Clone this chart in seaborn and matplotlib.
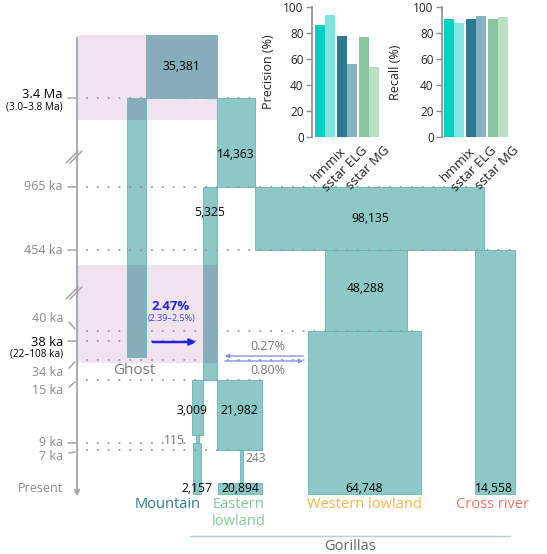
import matplotlib
matplotlib.use("Agg")
import matplotlib.pyplot as plt
import matplotlib.transforms as mtransforms
import numpy as np
import pandas as pd
import seaborn as sns

# ---- data ----
time_labels = ["3.4 Ma", "965 ka", "454 ka", "40 ka", "38 ka", "34 ka", "15 ka", "9 ka", "7 ka", "Present"]
time_ci = {"3.4 Ma": "(3.0–3.8 Ma)", "38 ka": "(22–108 ka)"}

pop_keys = ["ancestral", "ghost", "gorilla", "eastern_anc", "western_anc", "western_mid",
            "western", "cross", "mountain_anc", "eastern_low", "mountain_neck", "eastern_neck",
            "mountain", "eastern"]
pop_ne = [35381, None, 14363, 5325, 98135, 48288, 64748, 14558, 3009, 21982, 115, 243, 2157, 20894]

species = ["Mountain", "Eastern\nlowland", "Western lowland", "Cross river"]
mig_labels = ["2.47%", "0.27%", "0.80%"]
mig_ci = "(2.39–2.5%)"

methods = ["hmmix", "sstar ELG", "sstar MG"]
precision_a = [86, 77.5, 77]
precision_b = [94, 56, 53.5]
recall_a = [90.5, 91, 91]
recall_b = [87.5, 93, 92.5]

# ---- layout of the schematic (figure pixels, y grows downward) ----
time_rows = [98, 187, 250, 331, 341, 360, 380, 443, 450, 493]
label_rows = [95, 187, 251, 318, 342, 372, 391, 442, 457, 488]
dot_right = [255, 484, 515, 421, 217, 308, 262, 192, 262, None]

box_layout = {
    "ancestral": (146, 217, 35, 98),
    "ghost": (127, 146, 98, 357),
    "gorilla": (217, 255, 98, 187),
    "eastern_anc": (203, 217, 187, 380),
    "western_anc": (255, 484, 187, 250),
    "western_mid": (325, 407, 250, 331),
    "western": (308, 421, 331, 494),
    "cross": (475, 515, 250, 494),
    "mountain_anc": (192, 203, 380, 435),
    "eastern_low": (217, 262, 380, 450),
    "mountain_neck": (196, 198.5, 435, 443),
    "eastern_neck": (240, 242.5, 450, 483),
    "mountain": (193, 201, 443, 494),
    "eastern": (218, 262, 483, 494),
}
label_xy = {
    "ancestral": (181, 67), "gorilla": (236, 154), "eastern_anc": (210, 213),
    "western_anc": (370, 219), "western_mid": (366, 288), "western": (364, 488),
    "cross": (494, 488), "mountain_anc": (192, 411), "eastern_low": (239, 411),
    "mountain_neck": (174, 441), "eastern_neck": (256, 458), "mountain": (197, 488),
    "eastern": (240, 488),
}
pink_regions = [(77, 217, 35, 120), (77, 217, 265, 363)]

TEAL = "#8dc7c6"
TEAL_EDGE = "#62b6b4"
DARK = "#87adba"
PINK = "#f1e2f0"
GRAY = "#8a8a8a"

sns.set_theme(style="white")
plt.rcParams["font.family"] = ["Open Sans", "DejaVu Sans"]

fig = plt.figure(figsize=(5.47, 5.54), dpi=100)
ax = fig.add_axes([0, 0, 1, 1])
ax.set_xlim(0, 547)
ax.set_ylim(554, 0)
ax.axis("off")

# ghost shading
for l, r, t, b in pink_regions:
    ax.bar((l + r) / 2, b - t, width=r - l, bottom=t, color=PINK, linewidth=0, zorder=1)

# population boxes
for key in pop_keys:
    l, r, t, b = box_layout[key]
    ax.bar((l + r) / 2, b - t, width=r - l, bottom=t, color=TEAL,
           edgecolor=TEAL_EDGE, linewidth=0.6, zorder=2)
    for pl, pr, pt, pb in pink_regions:
        il, ir, it, ib = max(l, pl), min(r, pr), max(t, pt), min(b, pb)
        if ir > il and ib > it:
            ax.bar((il + ir) / 2, ib - it, width=ir - il, bottom=it, color=DARK,
                   linewidth=0, zorder=3)

for key, ne in zip(pop_keys, pop_ne):
    if ne is None:
        continue
    x, y = label_xy[key]
    ax.text(x, y, f"{ne:,}", ha="center", va="center", fontsize=8.7,
            color="#777777" if ne < 1000 else "black", zorder=6)

# dotted time lines
for row, xr in zip(time_rows, dot_right):
    if xr is None:
        continue
    ax.plot([86, xr], [row, row], color="#9a9a9a", lw=1.3, ls=(0, (1, 5)), zorder=4)

# time axis
ax.annotate("", xy=(77, 499), xytext=(77, 35),
            arrowprops=dict(arrowstyle="->", color="#a5a5a5", lw=1.3, mutation_scale=8))
for lab, row, lrow in zip(time_labels, time_rows, label_rows):
    dark = lab in time_ci
    ax.text(63, lrow, lab, ha="right", va="center", fontsize=9.3 if dark else 9,
            color="black" if dark else GRAY)
    if lab in time_ci:
        ax.text(63, lrow + 12, time_ci[lab], ha="right", va="center", fontsize=7.2, color="black")
    if lab == "Present":
        continue
    if abs(row - lrow) < 4:
        ax.plot([68, 76], [row, row], color="#a5a5a5", lw=1.1)
    else:
        s = np.sign(row - lrow)
        ax.plot([69, 75], [lrow + 4 * s, row - 2 * s], color="#a5a5a5", lw=1.1)

# axis breaks
for yb in [157, 293]:
    for dx in [0, 4]:
        ax.plot([66 + dx, 78 + dx], [yb + 6, yb - 6], color="#a5a5a5", lw=1.1)

# migration
ax.annotate("", xy=(199, 342), xytext=(150, 342),
            arrowprops=dict(arrowstyle="-|>", color="#2424d8", lw=1.8, mutation_scale=9), zorder=6)
ax.text(171, 307, mig_labels[0], ha="center", va="center", fontsize=9.5,
        fontweight="bold", color="#2424d8")
ax.text(171, 318, mig_ci, ha="center", va="center", fontsize=6.5, color="#3a3ad8")
ax.annotate("", xy=(222, 356), xytext=(306, 356),
            arrowprops=dict(arrowstyle="-|>", color="#8f8fe0", lw=1, mutation_scale=6), zorder=6)
ax.annotate("", xy=(306, 361), xytext=(222, 361),
            arrowprops=dict(arrowstyle="-|>", color="#8f8fe0", lw=1, mutation_scale=6), zorder=6)
ax.text(268, 347, mig_labels[1], ha="center", va="center", fontsize=9, color="#7a7a7a")
ax.text(268, 370, mig_labels[2], ha="center", va="center", fontsize=9, color="#7a7a7a")

ax.text(134, 371, "Ghost", ha="center", va="center", fontsize=11, color="#7a7a7a")

# species labels
sp_xy = [(168, 504), (239, 513), (364, 504), (492, 504)]
sp_colors = ["#2a7d91", "#82c99c", "#f5b74e", "#f27563"]
for name, (x, y), c in zip(species, sp_xy, sp_colors):
    ax.text(x, y, name, ha="center", va="center", fontsize=10.5, color=c, linespacing=1.25)
ax.plot([190, 510], [536, 536], color="#a8d8d0", lw=1)
ax.text(350, 546, "Gorillas", ha="center", va="center", fontsize=10.5, color="#666666")

# ---- inset bar charts ----
bar_colors = ["#00cfc1", "#7fe5dd", "#2e7a90", "#88b2c2", "#86c79c", "#badfc3"]


def inset(rect, vals_a, vals_b, ylabel, left, label_x):
    iax = fig.add_axes(rect)
    df = pd.DataFrame({"method": methods * 2,
                       "run": ["a"] * 3 + ["b"] * 3,
                       "value": vals_a + vals_b})
    sns.barplot(data=df, x="method", y="value", hue="run", dodge=True, width=0.91,
                gap=0, ax=iax, legend=False, saturation=1, errorbar=None)
    bars = sorted(iax.patches, key=lambda p: p.get_x())
    for p, c in zip(bars, bar_colors):
        p.set_facecolor(c)
        p.set_edgecolor("none")
    iax.set_ylim(0, 100)
    iax.set_xlim(left, 2.5)
    iax.set_yticks(range(0, 101, 20))
    iax.set_xlabel("")
    iax.set_ylabel(ylabel, fontsize=9, color="#222222")
    iax.yaxis.set_label_coords(label_x, 0.5)
    sns.despine(ax=iax, bottom=True)
    iax.spines["left"].set_color("#8c8c8c")
    iax.spines["left"].set_linewidth(1.2)
    iax.tick_params(axis="y", left=True, length=4, width=1, color="#8c8c8c",
                    labelsize=8.5, labelcolor="#222222", pad=2)
    iax.tick_params(axis="x", length=0, labelsize=9.5, labelcolor="#222222", pad=5)
    iax.patch.set_alpha(0)
    shift = mtransforms.ScaledTranslation(14 / 100, 0, fig.dpi_scale_trans)
    for t in iax.get_xticklabels():
        t.set_rotation(45)
        t.set_ha("right")
        t.set_va("top")
        t.set_rotation_mode("anchor")
        t.set_transform(t.get_transform() + shift)
    return iax


inset([312 / 547, 1 - 137 / 554, 68 / 547, 130 / 554], precision_a, precision_b,
      "Precision (%)", -0.59, -0.54)
inset([442 / 547, 1 - 137 / 554, 67 / 547, 130 / 554], recall_a, recall_b,
      "Recall (%)", -0.55, -0.60)

fig.savefig("out.png", dpi=100)
